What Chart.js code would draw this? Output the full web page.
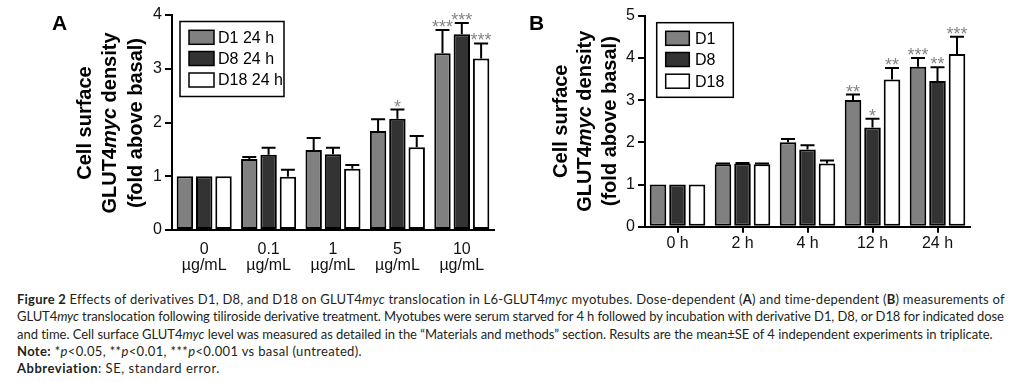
<!DOCTYPE html>
<html><head><meta charset="utf-8">
<script src="https://cdn.jsdelivr.net/npm/chart.js@4.4.0/dist/chart.umd.min.js"></script>
<style>
html,body{margin:0;padding:0;background:#fff;}
body{width:1011px;height:382px;position:relative;overflow:hidden;}
#ca{position:absolute;left:0;top:0;}
#cb{position:absolute;left:500px;top:0;}
#cap{position:absolute;left:17px;top:291px;font-family:Lato,"Open Sans",sans-serif;font-size:13px;line-height:17.3px;color:#231f20;}
.ln{white-space:nowrap;height:17.3px;}
.ln span{display:inline-block;}
b{font-weight:700;}
</style>
</head><body>
<canvas id="ca" width="500" height="280"></canvas>
<canvas id="cb" width="511" height="280"></canvas>
<div id="cap">
<div class="ln" data-w="988"><span><b>Figure 2</b> Effects of derivatives D1, D8, and D18 on GLUT4<i>myc</i> translocation in L6-GLUT4<i>myc</i> myotubes. Dose-dependent (<b>A</b>) and time-dependent (<b>B</b>) measurements of</span></div>
<div class="ln" data-w="988"><span>GLUT4<i>myc</i> translocation following tiliroside derivative treatment. Myotubes were serum starved for 4 h followed by incubation with derivative D1, D8, or D18 for indicated dose</span></div>
<div class="ln" data-w="976"><span>and time. Cell surface GLUT4<i>myc</i> level was measured as detailed in the “Materials and methods” section. Results are the mean±SE of 4 independent experiments in triplicate.</span></div>
<div class="ln" data-w="345"><span><b>Note:</b> *<i>p</i>&lt;0.05, **<i>p</i>&lt;0.01, ***<i>p</i>&lt;0.001 vs basal (untreated).</span></div>
<div class="ln" data-w="203"><span><b>Abbreviation</b>: SE, standard error.</span></div>
</div>
<script>
// ---------- Data ----------
const catsA = [["0","µg/mL"],["0.1","µg/mL"],["1","µg/mL"],["5","µg/mL"],["10","µg/mL"]];
const seriesNamesA = ["D1 24 h","D8 24 h","D18 24 h"];
const d1A = [1.00, 1.32, 1.49, 1.84, 3.29];
const d8A = [1.00, 1.40, 1.41, 2.07, 3.64];
const d18A = [1.00, 0.99, 1.14, 1.54, 3.19];
const d1AErr = [0, 0.04, 0.22, 0.22, 0.43];
const d8AErr = [0, 0.13, 0.12, 0.17, 0.21];
const d18AErr = [0, 0.13, 0.07, 0.21, 0.28];
const d1ASig = ["","","","","***"];
const d8ASig = ["","","","*","***"];
const d18ASig = ["","","","","***"];
const yTicksA = [0,1,2,3,4];

const catsB = ["0 h","2 h","4 h","12 h","24 h"];
const seriesNamesB = ["D1","D8","D18"];
const d1B = [1.00, 1.48, 2.00, 3.00, 3.79];
const d8B = [1.00, 1.50, 1.83, 2.35, 3.45];
const d18B = [1.00, 1.48, 1.50, 3.49, 4.09];
const d1BErr = [0, 0.02, 0.08, 0.13, 0.21];
const d8BErr = [0, 0.01, 0.10, 0.21, 0.33];
const d18BErr = [0, 0.02, 0.07, 0.27, 0.41];
const d1BSig = ["","","","**","***"];
const d8BSig = ["","","","*","**"];
const d18BSig = ["","","","**","***"];
const yTicksB = [0,1,2,3,4,5];

const fills = ["#808080","#333333","#ffffff"];
const FONT = "'Liberation Sans', Arial, sans-serif";
Chart.defaults.font.family = FONT;
Chart.defaults.color = "#111";

// ---------- Plugins ----------
const errPlugin = {
  id: 'errbars',
  afterDatasetsDraw(chart) {
    const ctx = chart.ctx, ys = chart.scales.y;
    chart.data.datasets.forEach((ds, i) => {
      const meta = chart.getDatasetMeta(i);
      meta.data.forEach((bar, j) => {
        const v = ds.data[j], e = ds.err[j];
        const yTop = ys.getPixelForValue(v);
        const yCap = ys.getPixelForValue(v + e);
        ctx.save();
        if (e > 0) {
          ctx.strokeStyle = '#000'; ctx.lineWidth = 2;
          ctx.beginPath();
          ctx.moveTo(bar.x, yTop); ctx.lineTo(bar.x, yCap);
          ctx.moveTo(bar.x - 7, yCap); ctx.lineTo(bar.x + 7, yCap);
          ctx.stroke();
        }
        if (ds.sig[j]) {
          ctx.fillStyle = '#858585';
          ctx.font = '18px ' + FONT;
          ctx.textAlign = 'center'; ctx.textBaseline = 'alphabetic';
          ctx.fillText(ds.sig[j], bar.x, yCap + 3);
        }
        ctx.restore();
      });
    });
  }
};

const decoPlugin = {
  id: 'deco',
  afterDraw(chart) {
    const o = chart.options.plugins.deco;
    const ctx = chart.ctx;
    ctx.save();
    ctx.fillStyle = '#000';
    ctx.font = 'bold 21px ' + FONT;
    ctx.textAlign = 'left'; ctx.textBaseline = 'alphabetic';
    ctx.fillText(o.letter, o.letterX, o.letterY);
    const lines = [
      [["Cell surface", "bold "]],
      [["GLUT4", "bold "], ["myc", "italic bold "], [" density", "bold "]],
      [["(fold above basal)", "bold "]]
    ];
    lines.forEach((parts, k) => {
      ctx.save();
      ctx.translate(o.titleX[k], o.titleY);
      ctx.rotate(-Math.PI / 2);
      ctx.textBaseline = 'middle'; ctx.textAlign = 'left';
      let total = 0;
      parts.forEach(p => { ctx.font = p[1] + '20px ' + FONT; total += ctx.measureText(p[0]).width; });
      let x = -total / 2;
      parts.forEach(p => { ctx.font = p[1] + '20px ' + FONT; ctx.fillText(p[0], x, 0); x += ctx.measureText(p[0]).width; });
      ctx.restore();
    });
    const L = o.legend;
    ctx.strokeStyle = '#000'; ctx.lineWidth = 1.5;
    ctx.strokeRect(L.x, L.y, L.w, L.h);
    chart.data.datasets.forEach((ds, i) => {
      const cy = L.rows[i];
      ctx.fillStyle = ds.backgroundColor;
      ctx.fillRect(L.sx, cy - 7, L.sw, 14);
      ctx.strokeRect(L.sx, cy - 7, L.sw, 14);
      ctx.fillStyle = '#000';
      ctx.font = '16px ' + FONT;
      ctx.textBaseline = 'middle';
      ctx.fillText(ds.label, L.tx, cy + 1);
    });
    ctx.restore();
  }
};

function makeDatasets(names, vals, errs, sigs) {
  return names.map((n, i) => ({
    label: n, data: vals[i], err: errs[i], sig: sigs[i],
    backgroundColor: fills[i], borderColor: '#000', borderWidth: 2, borderSkipped: false,
    categoryPercentage: 0.9, barPercentage: 0.85
  }));
}

function makeChart(el, cats, ds, yMax, cfg) {
  return new Chart(el, {
    type: 'bar',
    data: { labels: cats, datasets: ds },
    options: {
      responsive: false, animation: false, devicePixelRatio: 1,
      layout: { padding: { left: cfg.padLeft, top: cfg.padTop, right: cfg.padRight, bottom: 0 } },
      plugins: { legend: { display: false }, tooltip: { enabled: false }, deco: cfg.deco },
      scales: {
        x: {
          grid: { display: cfg.xTicks, drawOnChartArea: false, offset: false, color: '#000', lineWidth: 2, tickLength: 6 },
          border: { display: true, color: '#000', width: 2 },
          ticks: { font: { size: 16, lineHeight: 1.0 }, color: '#111', padding: cfg.xPad, maxRotation: 0, autoSkip: false },
          afterFit: s => { s.height = cfg.xH; }
        },
        y: {
          min: 0, max: yMax,
          afterBuildTicks: s => { s.ticks = cfg.yTicks.map(v => ({ value: v })); },
          grid: { display: true, drawOnChartArea: false, color: '#000', lineWidth: 2, tickLength: 7 },
          border: { display: true, color: '#000', width: 2 },
          ticks: { font: { size: 16 }, color: '#111', padding: 3 },
          afterFit: s => { s.width = cfg.yW; }
        }
      }
    },
    plugins: [errPlugin, decoPlugin]
  });
}

makeChart(document.getElementById('ca'), catsA,
  makeDatasets(seriesNamesA, [d1A, d8A, d18A], [d1AErr, d8AErr, d18AErr], [d1ASig, d8ASig, d18ASig]), 4,
  { padLeft: 100, padTop: 15, padRight: 6, yW: 72, xH: 50, xTicks: false, xPad: 6, yTicks: yTicksA,
    deco: { letter: 'A', letterX: 52, letterY: 30, titleX: [85, 110, 136], titleY: 123,
      legend: { x: 180, y: 21.5, w: 104, h: 75, sx: 189, sw: 25, tx: 218, rows: [37.3, 58.5, 80] } } });

makeChart(document.getElementById('cb'), catsB,
  makeDatasets(seriesNamesB, [d1B, d8B, d18B], [d1BErr, d8BErr, d18BErr], [d1BSig, d8BSig, d18BSig]), 5,
  { padLeft: 100, padTop: 15.7, padRight: 41, yW: 45, xH: 53.3, xTicks: true, xPad: 3, yTicks: yTicksB,
    deco: { letter: 'B', letterX: 29, letterY: 30, titleX: [61.5, 85.5, 110.3], titleY: 121.2,
      legend: { x: 156.7, y: 22.7, w: 76.6, h: 74.6, sx: 165.7, sw: 23.6, tx: 195, rows: [38.3, 59.5, 81.2] } } });

// ---------- Caption fitting: distribute the difference over letters ----------
function fitCaption() {
  document.querySelectorAll('.ln').forEach(div => {
    const sp = div.firstElementChild;
    const t = +div.dataset.w;
    if (!t) return;
    sp.style.letterSpacing = '0px';
    sp.style.wordSpacing = '0px';
    const w = sp.getBoundingClientRect().width;
    const n = sp.textContent.length;
    sp.style.letterSpacing = ((t - w) / n) + 'px';
  });
}
fitCaption();
if (document.fonts && document.fonts.ready) document.fonts.ready.then(fitCaption);
</script>
</body></html>
